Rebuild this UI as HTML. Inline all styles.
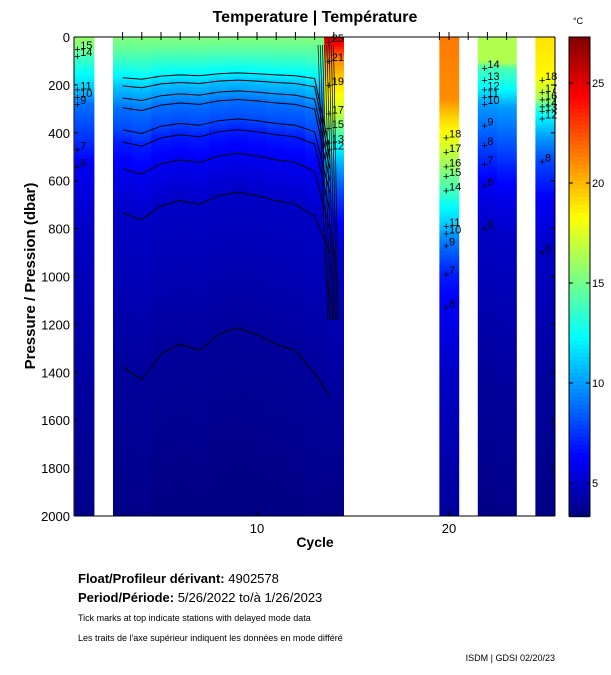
<!DOCTYPE html>
<html><head><meta charset="utf-8"><style>
body{margin:0;background:#fff;width:611px;height:675px;overflow:hidden;font-family:"Liberation Sans",sans-serif}
svg{position:absolute;left:0;top:0}
</style></head><body>
<svg id="s" width="611" height="675" xmlns="http://www.w3.org/2000/svg" font-family="Liberation Sans, sans-serif">
<text x="315" y="22" font-size="16" font-weight="bold" text-anchor="middle">Temperature | Température</text>
<text x="315" y="547" font-size="14" font-weight="bold" text-anchor="middle">Cycle</text>
<text transform="translate(35,276) rotate(-90)" font-size="15" font-weight="bold" text-anchor="middle">Pressure / Pression (dbar)</text>
<text x="573" y="24" font-size="9">°C</text>
<g font-size="13" font-weight="bold">
<text x="78" y="583">Float/Profileur dérivant: <tspan font-weight="normal">4902578</tspan></text>
<text x="78" y="602">Period/Période: <tspan font-weight="normal">5/26/2022  to/à  1/26/2023</tspan></text>
</g>
<text x="78" y="621" font-size="9">Tick marks at top indicate stations with delayed mode data</text>
<text x="78" y="641" font-size="9">Les traits de l'axe supérieur indiquent les données en mode différé</text>
<text x="555" y="661" font-size="9" text-anchor="end">ISDM | GDSI  02/20/23</text>
<g id="g"></g>
</svg>
<script>
const S=document.getElementById('g');let h='';
const T0=3.35,T1=27.35;
function jet(T){let f=(T-T0)/(T1-T0);f=Math.max(0,Math.min(1,f));
 function c(x){return Math.max(0,Math.min(1,1.5-Math.abs(4*f-x)));}
 let r=c(3),g=c(2),b=c(1);return `rgb(${Math.round(r*255)},${Math.round(g*255)},${Math.round(b*255)})`;}
const py=p=>37+p*0.2395, cx=c=>84.2+(c-1)*19.2;
function interp(pr,p){for(let i=0;i<pr.length-1;i++){if(p<=pr[i+1][0]){let t=(p-pr[i][0])/(pr[i+1][0]-pr[i][0]);return pr[i][1]+t*(pr[i+1][1]-pr[i][1]);}}return pr[pr.length-1][1];}
function depthOf(pr,T){for(let i=0;i<pr.length-1;i++){let a=pr[i][1],b=pr[i+1][1];if((a-T)*(b-T)<=0&&a!=b){return pr[i][0]+(T-a)/(b-a)*(pr[i+1][0]-pr[i][0]);}}return null;}
const base=[[0,15.5],[60,14.5],[150,12.5],[200,11],[250,10],[290,9],[380,8],[430,7],[540,6],[720,5],[1000,4.6],[1350,4],[2000,3.5]];
const sc={3:1.02,4:1.06,5:0.98,6:0.95,7:0.97,8:0.92,9:0.9,10:0.92,11:0.95,12:0.97,13:1.04};
const P={1:[[0,16],[50,15],[80,14],[220,11],[250,10],[280,9],[380,8],[470,7],[540,6],[800,5],[1400,4.2],[2000,3.6]],
14:[[0,26],[20,25],[100,21],[200,19],[320,17],[380,15],[440,13],[470,12],[550,10],[650,8],[800,6],[900,5],[1500,4],[2000,3.5]],
20:[[0,21.5],[260,21],[330,19.5],[420,18],[480,17],[540,16],[580,15],[640,14],[700,12.5],[790,11],[820,10],[870,9],[990,7],[1130,6],[1400,5],[2000,4]],
22:[[0,16.5],[100,16.5],[115,15],[130,14],[180,13],[220,12],[250,11],[280,10],[370,9],[450,8],[530,7],[620,6],[800,5],[1400,4],[2000,3.5]],
25:[[0,19],[150,18.5],[180,18],[230,17],[260,16],[290,14],[310,13],[340,12],[420,10],[520,8],[700,6],[900,5],[1450,4],[2000,3.5]]};
P[23]=P[22].map(a=>[a[0]*1.05,a[1]]);
for(let c=3;c<=13;c++)P[c]=base.map(a=>[a[0]*sc[c],a[1]]);
for(const c in P){const pr=P[c];const x=cx(+c)-9.6;
 for(let p=0;p<2000;p+=10){let y=py(p);h+=`<rect x="${x.toFixed(1)}" y="${y.toFixed(2)}" width="19.8" height="2.8" fill="${jet(interp(pr,p+5))}"/>`;}}
const iso=[12,11,10,9,8,7,6,5,4];
iso.forEach(T=>{let pts=[];for(let c=3;c<=13;c++){let d=depthOf(P[c],T);if(d!=null)pts.push([cx(c),py(d)]);}
 let d14=depthOf(P[14],T);if(d14!=null)pts.push([cx(14)-4,py(d14)]);
 h+=`<polyline fill="none" stroke="#000" stroke-width="1" points="${pts.map(p=>p[0].toFixed(1)+','+p[1].toFixed(1)).join(' ')}"/>`;});
for(let k=0;k<8;k++){h+=`<path d="M${318+k*2.2},${45} C${322+k*2},${150} ${324+k*2},${260} ${328+k*1.5},${320}" stroke="#000" fill="none" stroke-width="0.7"/>`;}
function lab(c,T,dx){const d=depthOf(P[c],T);if(d==null)return;const x=cx(c)+(dx||0),y=py(d);
 h+=`<text x="${x-6}" y="${y+4}" font-size="11">+</text><text x="${x}" y="${y}" font-size="11">${T}</text>`;}
[15,14,11,10,9,7,6].forEach(T=>lab(1,T,-4));
[18,17,16,15,14,11,10,9,7,6].forEach(T=>lab(20,T,0));
[17,14,13,12,11,10,9,8,7,6,5].forEach(T=>lab(22,T,0));
[18,17,16,14,13,12,8,5].forEach(T=>lab(25,T,0));
[25,21,19,17,15,13,12].forEach(T=>lab(14,T,-2));
h+=`<line x1="74" y1="37" x2="555" y2="37" stroke="#000"/><line x1="74" y1="37" x2="74" y2="516" stroke="#000"/><line x1="74" y1="516" x2="555" y2="516" stroke="#000"/><line x1="555" y1="37" x2="555" y2="516" stroke="#000"/>`;
for(let p=0;p<=2000;p+=200){const y=py(p);h+=`<line x1="74" y1="${y}" x2="78" y2="${y}" stroke="#000"/><line x1="551" y1="${y}" x2="555" y2="${y}" stroke="#000"/><text x="70" y="${y+5}" font-size="13" text-anchor="end">${p}</text>`;}
[10,20].forEach(c=>{h+=`<line x1="${cx(c)}" y1="516" x2="${cx(c)}" y2="511" stroke="#000"/><text x="${cx(c)}" y="533" font-size="13" text-anchor="middle">${c}</text>`;});
[3,4,5,6,7,8,9,10,11,12,13,14,19.5,20,21,22,23].forEach(c=>{h+=`<line x1="${cx(c)}" y1="32" x2="${cx(c)}" y2="40" stroke="#000"/>`;});
for(let y=37;y<516;y+=4){const T=27.35-(y+2-37)/20;h+=`<rect x="569" y="${y}" width="21" height="4.2" fill="${jet(T)}"/>`;}
h+=`<rect x="569" y="37" width="21" height="479" fill="none" stroke="#000"/>`;
[5,10,15,20,25].forEach(T=>{const y=483-(T-5)*20;h+=`<line x1="586" y1="${y}" x2="590" y2="${y}" stroke="#000"/><line x1="569" y1="${y}" x2="573" y2="${y}" stroke="#000"/><text x="592" y="${y+4}" font-size="11">${T}</text>`;});
S.innerHTML=h;
</script>
</body></html>
